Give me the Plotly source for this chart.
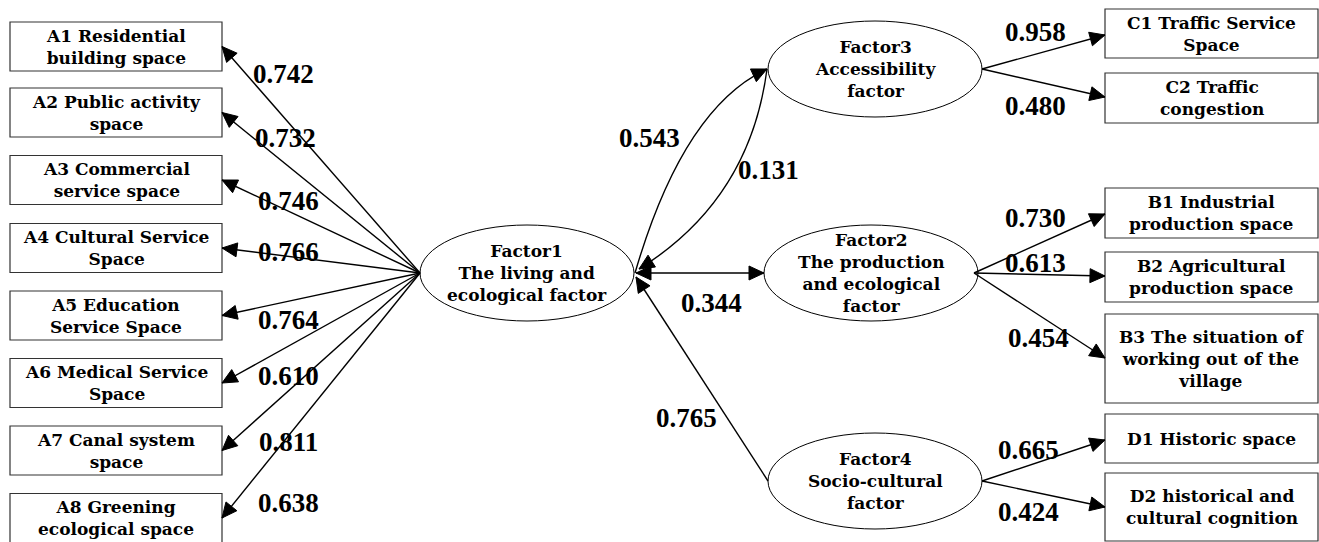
import numpy as np
import plotly.graph_objects as go

# ---------------- data ----------------
left_items = ["A1 Residential<br>building space", "A2 Public activity<br>space",
              "A3 Commercial<br>service space", "A4 Cultural Service<br>Space",
              "A5 Education<br>Service Space", "A6 Medical Service<br>Space",
              "A7 Canal system<br>space", "A8 Greening<br>ecological space"]
left_loadings = [0.742, 0.732, 0.746, 0.766, 0.764, 0.610, 0.811, 0.638]

factor_names = ["Factor1<br>The living and<br>ecological factor",
                "Factor2<br>The production<br>and ecological<br>factor",
                "Factor3<br>Accessibility<br>factor",
                "Factor4<br>Socio-cultural<br>factor"]

c_items = ["C1 Traffic Service<br>Space", "C2 Traffic<br>congestion"]
c_loadings = [0.958, 0.480]
b_items = ["B1 Industrial<br>production space", "B2 Agricultural<br>production space",
           "B3 The situation of<br>working out of the<br>village"]
b_loadings = [0.730, 0.613, 0.454]
d_items = ["D1 Historic space", "D2 historical and<br>cultural cognition"]
d_loadings = [0.665, 0.424]

corr_f1_f3 = 0.543
corr_f3_f1 = 0.131
corr_f1_f2 = 0.344
corr_f4_f1 = 0.765

# ---------------- layout (pixel geometry) ----------------
W, H = 1319, 542
TXT_FONT = "DejaVu Serif"
NUM_FONT = "Liberation Serif"
TXT = 17
NUM = 27
BOX_LINE = "#333333"

left_box_x = (10, 222)
left_box_h = 49
left_cy = [46.5, 112.5, 180, 248, 315.5, 383, 450.5, 518]
left_lab_xy = [(283, 74), (285, 138), (288, 201), (288, 252),
               (288, 320), (288, 376), (288, 442), (288, 503)]

ell_rx, ell_ry = 107, 48
f_centers = {1: (527, 273), 2: (871, 273), 3: (875, 69), 4: (875, 481)}

right_box_x = (1105, 1318)
c_boxes = [(9, 58), (73, 123)]
b_boxes = [(188, 238), (252, 302), (314, 403)]
d_boxes = [(414, 463), (473, 541)]
c_tips = [35, 97]
b_tips = [214, 276, 358]
d_tips = [440, 507]
c_lab = [(1035, 32), (1035, 106)]
b_lab = [(1035, 218), (1035, 263), (1038, 338)]
d_lab = [(1028, 450), (1028, 512)]

HEAD_L, HEAD_W = 15, 7

shapes = []
annotations = []


def block_text(text, cx, cy):
    annotations.append(dict(
        x=cx, y=cy, text=text, showarrow=False,
        xanchor="center", yanchor="middle", align="center",
        font=dict(family=TXT_FONT, size=TXT, color="black", weight="bold")))


def number(v, x, y):
    annotations.append(dict(x=x, y=y, text=f"{v:.3f}", showarrow=False,
                            xanchor="center", yanchor="middle",
                            font=dict(family=NUM_FONT, size=NUM, color="black", weight="bold")))


def head(tip, frm):
    tip = np.array(tip, float)
    frm = np.array(frm, float)
    d = tip - frm
    d = d / np.linalg.norm(d)
    base = tip - d * HEAD_L
    p = np.array([-d[1], d[0]])
    a = base + p * HEAD_W
    b = base - p * HEAD_W
    shapes.append(dict(type="path",
                       path=f"M {tip[0]:.2f},{tip[1]:.2f} L {a[0]:.2f},{a[1]:.2f} L {b[0]:.2f},{b[1]:.2f} Z",
                       fillcolor="black", line=dict(color="black", width=1)))


def line(p0, p1):
    shapes.append(dict(type="line", x0=p0[0], y0=p0[1], x1=p1[0], y1=p1[1],
                       line=dict(color="black", width=1.4)))


def arrow(p0, p1, both=False):
    line(p0, p1)
    head(p1, p0)
    if both:
        head(p0, p1)


def curve(p0, c, p1):
    shapes.append(dict(type="path",
                       path=f"M {p0[0]},{p0[1]} Q {c[0]},{c[1]} {p1[0]},{p1[1]}",
                       line=dict(color="black", width=1.4)))
    head(p1, c)


def box(x0, x1, y0, y1, text):
    shapes.append(dict(type="rect", x0=x0, x1=x1, y0=y0, y1=y1,
                       line=dict(color=BOX_LINE, width=1.2), fillcolor="white"))
    block_text(text, (x0 + x1) / 2, (y0 + y1) / 2)


def ellipse(k, text):
    cx, cy = f_centers[k]
    shapes.append(dict(type="circle", x0=cx - ell_rx, x1=cx + ell_rx,
                       y0=cy - ell_ry, y1=cy + ell_ry,
                       line=dict(color="black", width=1), fillcolor="rgba(0,0,0,0)"))
    block_text(text, cx, cy)


# Factor1 -> A items
f1 = f_centers[1]
f1_left = (f1[0] - ell_rx, f1[1])
for i, (t, v) in enumerate(zip(left_items, left_loadings)):
    cy = left_cy[i]
    box(left_box_x[0], left_box_x[1], cy - left_box_h / 2, cy + left_box_h / 2, t)
    arrow(f1_left, (left_box_x[1], cy))
    number(v, *left_lab_xy[i])

# right-side factor -> indicators
groups = [(3, c_items, c_loadings, c_boxes, c_tips, c_lab),
          (2, b_items, b_loadings, b_boxes, b_tips, b_lab),
          (4, d_items, d_loadings, d_boxes, d_tips, d_lab)]
for k, items, loads, boxes, tips, labs in groups:
    cx, cy = f_centers[k]
    start = (cx + ell_rx - (4 if k == 2 else 0), cy)
    for t, v, bx, ty, lab in zip(items, loads, boxes, tips, labs):
        box(right_box_x[0], right_box_x[1], bx[0], bx[1], t)
        arrow(start, (right_box_x[0], ty))
        number(v, *lab)

# factor correlations
f1_right = (f1[0] + ell_rx + 1, f1[1])
f3_left = (f_centers[3][0] - ell_rx - 1, f_centers[3][1])
f2_left = (f_centers[2][0] - ell_rx, f_centers[2][1])
f4_left = (f_centers[4][0] - ell_rx, f_centers[4][1])

curve(f1_right, (683, 108), f3_left)
number(corr_f1_f3, 649, 138)
curve(f3_left, (750, 200), (639, 269))
number(corr_f3_f1, 768, 170)
arrow((f1_right[0] + 1, f1_right[1]), f2_left, both=True)
number(corr_f1_f2, 711, 303)
arrow(f4_left, (636, 277))
number(corr_f4_f1, 686, 418)

# ellipses on top
for k in (1, 2, 3, 4):
    ellipse(k, factor_names[k - 1])

fig = go.Figure()
fig.update_layout(
    width=W, height=H, autosize=False,
    margin=dict(l=0, r=0, t=0, b=0),
    paper_bgcolor="white", plot_bgcolor="white",
    xaxis=dict(range=[0, W], visible=False, fixedrange=True),
    yaxis=dict(range=[H, 0], visible=False, fixedrange=True),
    shapes=shapes, annotations=annotations, showlegend=False,
)
fig.write_html("out.html", config={"displayModeBar": False},
               post_script="document.body.style.margin='0';")
